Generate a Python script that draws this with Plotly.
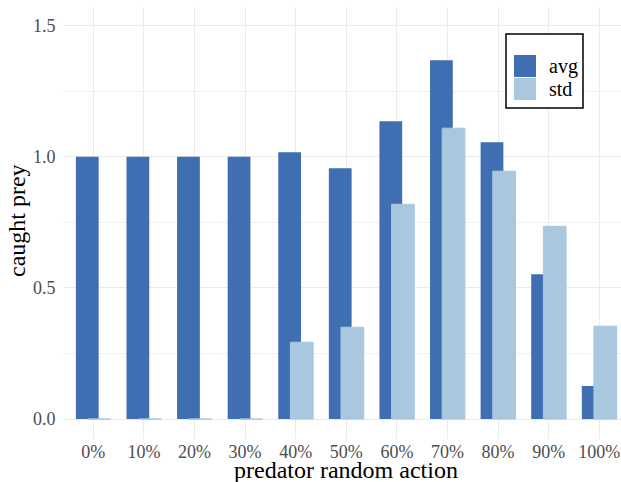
import plotly.graph_objects as go

categories = ["0%", "10%", "20%", "30%", "40%", "50%", "60%", "70%", "80%", "90%", "100%"]
avg_values = [1.0, 1.0, 1.0, 1.0, 1.017, 0.956, 1.135, 1.368, 1.055, 0.552, 0.126]
std_values = [0.0, 0.0, 0.0, 0.0, 0.293, 0.35, 0.819, 1.109, 0.945, 0.735, 0.354]
series_names = ["avg", "std"]
colors = ["#3f6eb3", "#a9c7df"]
x_title = "predator random action"
y_title = "caught prey"

FONT = "Liberation Serif"
x_idx = list(range(len(categories)))
bw = 0.45
dodge = 0.12

fig = go.Figure()
fig.add_trace(go.Bar(x=x_idx, y=avg_values, name=series_names[0], width=bw,
                     offset=-dodge - bw / 2, marker=dict(color=colors[0], line=dict(width=0)),
                     showlegend=False))
fig.add_trace(go.Bar(x=x_idx, y=std_values, name=series_names[1], width=bw,
                     offset=dodge - bw / 2,
                     marker=dict(color=colors[1], line=dict(width=1, color=colors[1])),
                     showlegend=False))

# custom legend (box, swatches, labels) in pixel-like paper coords
W, H = 621, 482
ml, mr, mt, mb = 63, 0, 7, 43
pw, ph = W - ml - mr, H - mt - mb
def px(x):
    return (x - ml) / pw
def py(y):
    return (H - mb - y) / ph

shapes = [dict(type="rect", xref="paper", yref="paper", x0=px(506), x1=px(583), y0=py(108), y1=py(34),
               line=dict(color="black", width=1.5), fillcolor="white", layer="above")]
annotations = []
for i, (name, col) in enumerate(zip(series_names, colors)):
    top = 55 + i * 23
    shapes.append(dict(type="rect", xref="paper", yref="paper", x0=px(514), x1=px(536),
                       y0=py(top + 22), y1=py(top), line=dict(width=0), fillcolor=col, layer="above"))
    annotations.append(dict(xref="paper", yref="paper", x=px(547), y=py(top + 11), text=name,
                            showarrow=False, xanchor="left", yanchor="middle",
                            font=dict(family=FONT, size=20, color="black")))

# axis titles
annotations.append(dict(xref="paper", yref="paper", x=px(346), y=py(470), text=x_title,
                        showarrow=False, xanchor="center", yanchor="middle",
                        font=dict(family=FONT, size=24, color="black")))
annotations.append(dict(xref="paper", yref="paper", x=px(17), y=py(221), text=y_title,
                        showarrow=False, xanchor="center", yanchor="middle", textangle=-90,
                        font=dict(family=FONT, size=24, color="black")))

fig.update_layout(
    width=W, height=H,
    margin=dict(l=ml, r=mr, t=mt, b=mb, autoexpand=False),
    barmode="overlay",
    plot_bgcolor="white", paper_bgcolor="white",
    font=dict(family=FONT),
    shapes=shapes, annotations=annotations,
    xaxis=dict(range=[-0.6, 10.43], tickmode="array", tickvals=x_idx, ticktext=categories,
               showgrid=True, gridcolor="#ebebeb", gridwidth=1.2, zeroline=False, automargin=False,
               ticks="", ticklen=0,
               tickfont=dict(family=FONT, size=18, color="#4d4d4d")),
    yaxis=dict(range=[-0.076, 1.571], tickvals=[0, 0.5, 1.0, 1.5], ticktext=["0.0", "0.5", "1.0", "1.5"],
               showgrid=True, gridcolor="#ebebeb", gridwidth=1.2, zeroline=False, automargin=False,
               minor=dict(tickvals=[0.25, 0.75, 1.25], showgrid=True, gridcolor="#f0f0f0", gridwidth=1),
               ticks="outside", ticklen=3, tickcolor="rgba(0,0,0,0)",
               tickfont=dict(family=FONT, size=18, color="#4d4d4d")),
)

fig.write_html("out.html", config={"displayModeBar": False},
               post_script="document.body.style.margin='0';document.body.style.overflow='hidden';")
